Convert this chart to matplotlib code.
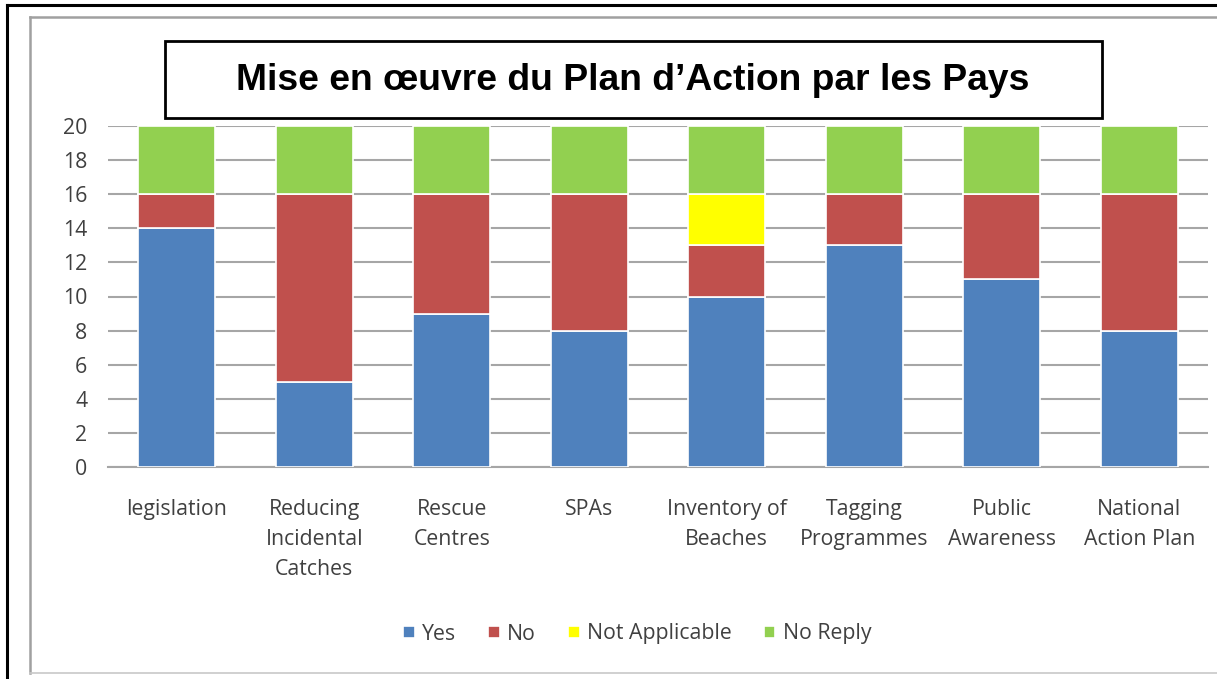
import matplotlib
matplotlib.use("Agg")
import matplotlib.pyplot as plt
from matplotlib.patches import Rectangle
from matplotlib.lines import Line2D
import numpy as np

categories = ["legislation", "Reducing\nIncidental\nCatches", "Rescue\nCentres", "SPAs",
              "Inventory of\nBeaches", "Tagging\nProgrammes", "Public\nAwareness", "National\nAction Plan"]
yes = [14, 5, 9, 8, 10, 13, 11, 8]
no = [2, 11, 7, 8, 3, 3, 5, 8]
not_applicable = [0, 0, 0, 0, 3, 0, 0, 0]
no_reply = [4, 4, 4, 4, 4, 4, 4, 4]
series_names = ["Yes", "No", "Not Applicable", "No Reply"]
colors = ["#4F81BD", "#C0504D", "#FFFF00", "#92D050"]
title = "Mise en œuvre du Plan d’Action par les Pays"

W, H = 1217, 679
fig = plt.figure(figsize=(W / 100, H / 100), dpi=100)
fig.patch.set_facecolor("white")

def fx(px):
    return px / W

def fy(py):
    return 1 - py / H

LABFONT = "Open Sans"
LABSIZE = 15.3
LABCOL = "#404040"

# outer borders
fig.add_artist(Line2D([fx(7), fx(7)], [0, fy(5)], color="black", lw=2.2))
fig.add_artist(Line2D([fx(7), 1], [fy(5), fy(5)], color="black", lw=2.2))
fig.add_artist(Line2D([fx(30), fx(30)], [fy(673), fy(17)], color="#A0A0A0", lw=1.8))
fig.add_artist(Line2D([fx(30), 1], [fy(17), fy(17)], color="#A0A0A0", lw=1.8))
fig.add_artist(Line2D([fx(30), 1], [fy(673), fy(673)], color="#C8C8C8", lw=1.2))

ax = fig.add_axes([fx(108), fy(467), fx(1208) - fx(108), fy(126) - fy(467)])
x = np.arange(len(categories))
bottom = np.zeros(len(categories))
for vals, name, c in zip([yes, no, not_applicable, no_reply], series_names, colors):
    ax.bar(x, vals, bottom=bottom, width=0.56, color=c, edgecolor="white", linewidth=1.2,
           label=name, zorder=3)
    bottom += np.array(vals)

ax.set_xlim(-0.5, len(categories) - 0.5)
ax.set_ylim(0, 20)
ax.set_yticks(range(0, 21, 2))
ax.yaxis.grid(True, color="#A6A6A6", linewidth=1.5, zorder=0)
ax.set_axisbelow(True)
for s in ["top", "right", "left"]:
    ax.spines[s].set_visible(False)
ax.spines["bottom"].set_color("#A6A6A6")
ax.spines["bottom"].set_linewidth(1.5)
ax.tick_params(axis="y", length=0, pad=15, labelsize=LABSIZE, labelcolor=LABCOL)
ax.tick_params(axis="x", length=0, pad=23, labelsize=LABSIZE, labelcolor=LABCOL)
ax.set_xticks(x)
ax.set_xticklabels(categories, linespacing=1.55, va="top")
for lab in ax.get_xticklabels() + ax.get_yticklabels():
    lab.set_fontfamily(LABFONT)

# title box
fig.add_artist(Rectangle((fx(165), fy(118)), fx(1102) - fx(165), fy(41) - fy(118),
                         facecolor="white", edgecolor="black", lw=2, zorder=5))
fig.text(fx(633), fy(80), title, ha="center", va="center", fontsize=26.8,
         fontweight="bold", family="Liberation Sans", zorder=6)

leg = fig.legend(loc="center", bbox_to_anchor=(fx(637), fy(634)), ncol=4, frameon=False,
                 handlelength=0.55, handleheight=0.55, handletextpad=0.35, columnspacing=1.5,
                 prop={"family": LABFONT, "size": LABSIZE})
for t in leg.get_texts():
    t.set_color(LABCOL)

fig.savefig("out.png", dpi=100, facecolor="white")
